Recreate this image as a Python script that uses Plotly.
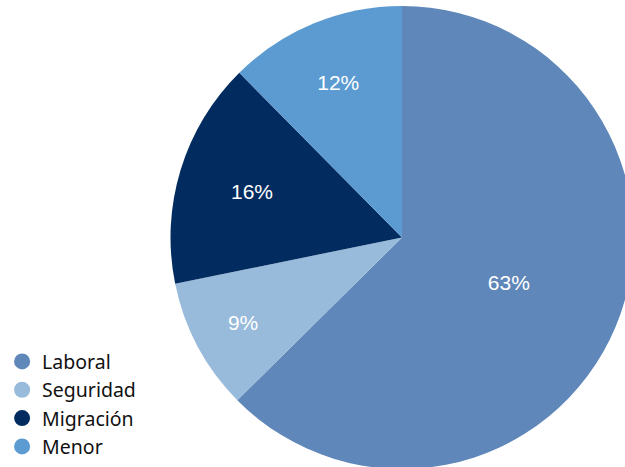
import plotly.graph_objects as go

categories = ["Laboral", "Seguridad", "Migración", "Menor"]
values = [62.6, 9.2, 15.8, 12.4]
colors = ["#5F87B9", "#98BADB", "#022C5F", "#5B9BD1"]

W, H = 700, 475
CX, R = 402, 231.5

fig = go.Figure()
fig.add_trace(go.Pie(
    labels=categories, values=values, sort=False, direction="clockwise",
    rotation=0, marker=dict(colors=colors, line=dict(width=0)),
    texttemplate="%{percent:.0%}", textposition="inside",
    insidetextorientation="horizontal",
    textfont=dict(family="Liberation Sans, Arial, sans-serif", size=21, color="white"),
    showlegend=False, hoverinfo="label+percent",
    domain=dict(x=[(CX - R) / W, (CX + R) / W], y=[0.0, 1.0]),
))
for name, col in zip(categories, colors):
    fig.add_trace(go.Scatter(
        x=[None], y=[None], mode="markers", name=name, legendgroup=name,
        marker=dict(symbol="circle", size=18, color=col),
    ))

fig.update_layout(
    width=W, height=H,
    margin=dict(l=0, r=0, t=6, b=6),
    paper_bgcolor="white", plot_bgcolor="white",
    xaxis=dict(visible=False), yaxis=dict(visible=False),
    legend=dict(x=0.003, y=0.006, xanchor="left", yanchor="bottom",
                font=dict(family="Noto Sans, sans-serif", size=19.5, color="#111111"),
                tracegroupgap=0, itemwidth=30, bgcolor="rgba(0,0,0,0)"),
)
fig.write_html(
    "out.html",
    config={"displayModeBar": False},
    post_script="document.body.style.margin='0';document.body.style.overflow='hidden';",
)
